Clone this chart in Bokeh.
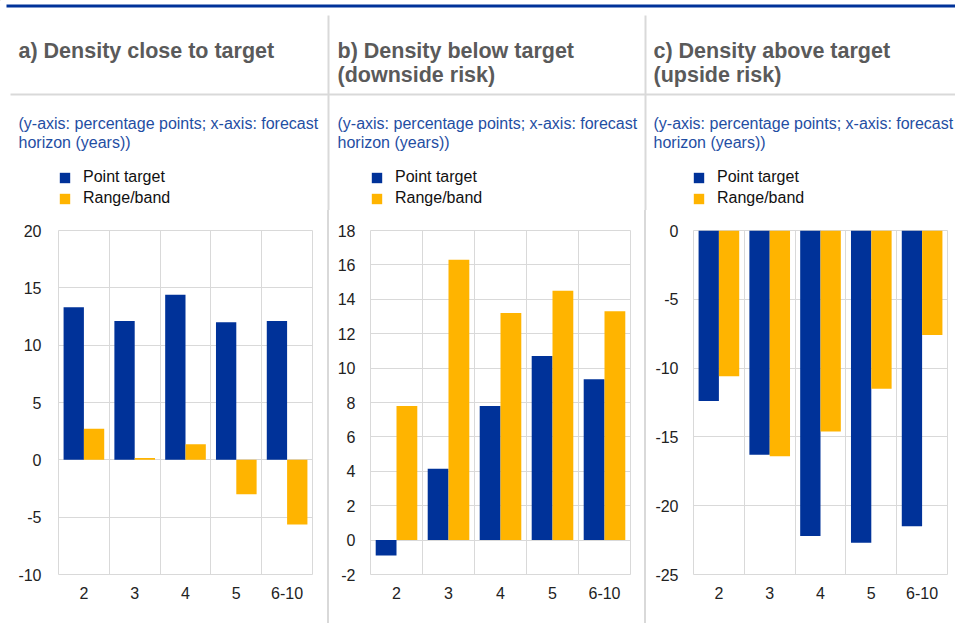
from bokeh.plotting import figure
from bokeh.models import (FactorRange, Range1d, FixedTicker, Legend, LegendItem,
                          ColumnDataSource, Div)
from bokeh.core.properties import value
from bokeh.transform import dodge
from bokeh.layouts import row, column
from bokeh.embed import file_html
from bokeh.resources import INLINE

# ---------------- data ----------------
horizons = ["2", "3", "4", "5", "6-10"]
series_names = ["Point target", "Range/band"]

a_point = [13.3, 12.1, 14.4, 12.0, 12.1]
a_range = [2.7, 0.15, 1.35, -3.0, -5.65]

b_point = [-0.9, 4.15, 7.8, 10.7, 9.35]
b_range = [7.8, 16.3, 13.2, 14.5, 13.3]

c_point = [-12.4, -16.3, -22.2, -22.7, -21.5]
c_range = [-10.6, -16.4, -14.6, -11.5, -7.6]

titles = [["a) Density close to target"],
          ["b) Density below target", "(downside risk)"],
          ["c) Density above target", "(upside risk)"]]
subtitle = ["(y-axis: percentage points; x-axis: forecast", "horizon (years))"]

a_ticks = [-10, -5, 0, 5, 10, 15, 20]
b_ticks = [-2, 0, 2, 4, 6, 8, 10, 12, 14, 16, 18]
c_ticks = [-25, -20, -15, -10, -5, 0]

# ---------------- style ----------------
BLUE = "#003299"
YELLOW = "#FFB400"
GRID = "#d9d9d9"
FONT = "Liberation Sans"
TITLE_COL = "#5a5a5a"
SUB_COL = "#1f4ea3"
TICK_COL = "#222222"

W = 955
HEAD_H = 210
CHART_H = 413
CH_TOP = 20
CH_FRAME = 344
CH_BOTTOM = CHART_H - CH_TOP - CH_FRAME

# column geometry (pixels): text left edge, legend left edge
col_text_x = [18, 337, 653]
col_legend_x = [58, 370, 692]
sep_x = [327, 644]

# ---------------- header (titles, notes, legends) ----------------
hp = figure(width=W, height=HEAD_H, x_range=Range1d(0, W), y_range=Range1d(HEAD_H, 0),
            output_backend="svg", toolbar_location=None, x_axis_type=None,
            y_axis_type=None, min_border=0)
hp.grid.visible = False
hp.outline_line_color = None
hp.background_fill_color = "white"
hp.border_fill_color = "white"

# top blue rule, grey separators
hp.quad(left=[6], right=[W], top=[4], bottom=[7], fill_color=BLUE, line_color=None)
hp.quad(left=[10], right=[W], top=[93], bottom=[95], fill_color=GRID, line_color=None)
hp.quad(left=[sx for sx in sep_x], right=[sx + 2 for sx in sep_x], top=[15, 15],
        bottom=[HEAD_H, HEAD_H], fill_color=GRID, line_color=None)

tx, ty, tt = [], [], []
for cx, lines in zip(col_text_x, titles):
    for i, t in enumerate(lines):
        tx.append(cx)
        ty.append(50 + 24 * i)
        tt.append(t)
hp.text(x=tx, y=ty, text=tt, text_font=value(FONT), text_font_size="21.5px",
        text_font_style="bold", text_color=TITLE_COL, text_baseline="alphabetic")

sx_, sy_, st_ = [], [], []
for cx in col_text_x:
    for i, t in enumerate(subtitle):
        sx_.append(cx)
        sy_.append(123 + 19 * i)
        st_.append(t)
hp.text(x=sx_, y=sy_, text=st_, text_font=value(FONT), text_font_size="16px",
        text_color=SUB_COL, text_baseline="alphabetic")

# legend swatches take their style from these (off-screen) renderers
dummy_blue = hp.vbar(x=[-100], top=[-100], bottom=[-101], width=1, fill_color=BLUE,
                     line_color=None)
dummy_yel = hp.vbar(x=[-100], top=[-100], bottom=[-101], width=1, fill_color=YELLOW,
                    line_color=None)
for lx in col_legend_x:
    lg = Legend(items=[LegendItem(label=series_names[0], renderers=[dummy_blue]),
                       LegendItem(label=series_names[1], renderers=[dummy_yel])],
                location=(lx, 3))
    lg.glyph_width = 13
    lg.glyph_height = 13
    lg.label_text_font = FONT
    lg.label_text_font_size = "16px"
    lg.label_text_color = "#111111"
    lg.label_standoff = 12
    lg.spacing = 3
    lg.padding = 0
    lg.margin = 0
    lg.border_line_color = None
    lg.background_fill_alpha = 0
    hp.add_layout(lg, "center")


# ---------------- chart panels ----------------
def make_panel(point, rng, ticks, width, left, right, y_standoff):
    src = ColumnDataSource(dict(h=horizons, p=point, r=rng))
    p = figure(width=width, height=CHART_H, x_range=FactorRange(*horizons),
               y_range=Range1d(ticks[0], ticks[-1]), output_backend="svg",
               toolbar_location=None, min_border_left=left, min_border_right=right,
               min_border_top=CH_TOP, min_border_bottom=CH_BOTTOM)
    p.background_fill_color = "white"
    p.border_fill_color = "white"
    p.outline_line_color = GRID
    p.outline_line_width = 1

    p.vbar(x=dodge("h", -0.2, range=p.x_range), top="p", width=0.4, source=src,
           fill_color=BLUE, line_color=None)
    p.vbar(x=dodge("h", 0.2, range=p.x_range), top="r", width=0.4, source=src,
           fill_color=YELLOW, line_color=None)

    p.yaxis.ticker = FixedTicker(ticks=ticks)
    p.yaxis.major_label_overrides = {t: str(t) for t in ticks}
    p.xgrid.ticker = FixedTicker(ticks=[1, 2, 3, 4])
    p.xgrid.grid_line_color = GRID
    p.ygrid.grid_line_color = GRID

    for ax in (p.xaxis[0], p.yaxis[0]):
        ax.axis_line_color = None
        ax.major_tick_line_color = None
        ax.minor_tick_line_color = None
        ax.major_label_text_font = FONT
        ax.major_label_text_font_size = "16px"
        ax.major_label_text_color = TICK_COL
    p.yaxis.major_label_standoff = y_standoff
    p.xaxis.major_label_standoff = 6
    return p


def sep():
    return Div(text="", width=2, height=CHART_H, margin=0,
               styles={"background-color": GRID})


pa = make_panel(a_point, a_range, a_ticks, 327, 58, 15, 11)
pb = make_panel(b_point, b_range, b_ticks, 315, 41, 14, 9)
pc = make_panel(c_point, c_range, c_ticks, 309, 47, 8, 9)

layout = column(hp, row(pa, sep(), pb, sep(), pc, spacing=0), spacing=0)
open("out.html", "w").write(file_html(layout, INLINE))
